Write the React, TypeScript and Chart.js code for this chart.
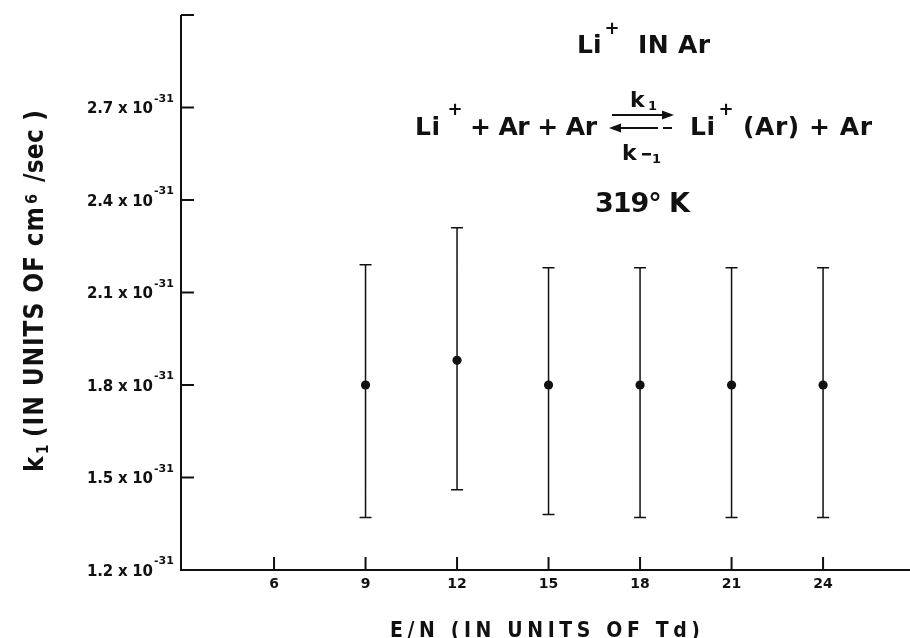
import React, { useEffect, useRef } from "react";
import { Chart, registerables } from "chart.js";

Chart.register(...registerables);

// ---- data ----
const enValues = [9, 12, 15, 18, 21, 24]; // E/N (Td)
const k1Values = [1.8, 1.88, 1.8, 1.8, 1.8, 1.8]; // x 1e-31 cm^6/sec
const k1High = [2.19, 2.31, 2.18, 2.18, 2.18, 2.18];
const k1Low = [1.37, 1.46, 1.38, 1.37, 1.37, 1.37];
const xTicks = [6, 9, 12, 15, 18, 21, 24];
const xTickLabels = ["6", "9", "12", "15", "18", "21", "24"];
const yTicks = [1.2, 1.5, 1.8, 2.1, 2.4, 2.7];
const yTickLabels = ["1.2", "1.5", "1.8", "2.1", "2.4", "2.7"];
const yExponent = "-31";
const xMin = 2.95;
const xMax = 26.85;
const yMin = 1.2;
const yMax = 3.0;

const FONT = '"DejaVu Sans", sans-serif';
const CFONT = '"DejaVu Sans Condensed", "DejaVu Sans", sans-serif';
const INK = "#111";

function charW(ctx: CanvasRenderingContext2D, s: string) {
  return Array.from(s).reduce((a, c) => a + ctx.measureText(c).width, 0);
}
function drawSpaced(ctx: CanvasRenderingContext2D, s: string, x: number, y: number, sp: number) {
  let cx = x;
  for (const ch of Array.from(s)) {
    ctx.fillText(ch, cx, y);
    cx += ctx.measureText(ch).width + sp;
  }
}
function drawFit(ctx: CanvasRenderingContext2D, s: string, x0: number, x1: number, y: number) {
  const chars = Array.from(s);
  const w = charW(ctx, s);
  const sp = chars.length > 1 ? (x1 - x0 - w) / (chars.length - 1) : 0;
  ctx.textAlign = "left";
  drawSpaced(ctx, s, x0, y, sp);
}

const paperPlugin = {
  id: "paper",
  beforeDatasetsDraw(chart: any) {
    const { ctx, chartArea: ca, scales } = chart;
    const x = scales.x;
    const y = scales.y;
    ctx.save();
    ctx.strokeStyle = INK;
    ctx.lineCap = "butt";
    ctx.lineWidth = 2;
    ctx.beginPath();
    ctx.moveTo(ca.left, y.getPixelForValue(yMax));
    ctx.lineTo(ca.left, ca.bottom);
    ctx.lineTo(ca.right, ca.bottom);
    ctx.stroke();
    ctx.beginPath();
    for (const v of [...yTicks, yMax]) {
      const py = y.getPixelForValue(v);
      ctx.moveTo(ca.left, py);
      ctx.lineTo(ca.left + 13, py);
    }
    for (const v of xTicks) {
      const px = x.getPixelForValue(v);
      ctx.moveTo(px, ca.bottom);
      ctx.lineTo(px, ca.bottom - 13);
    }
    ctx.stroke();
    ctx.lineWidth = 1.5;
    ctx.beginPath();
    enValues.forEach((xv, i) => {
      const px = x.getPixelForValue(xv);
      const top = y.getPixelForValue(k1High[i]);
      const bot = y.getPixelForValue(k1Low[i]);
      ctx.moveTo(px, top);
      ctx.lineTo(px, bot);
      ctx.moveTo(px - 6, top);
      ctx.lineTo(px + 6, top);
      ctx.moveTo(px - 6, bot);
      ctx.lineTo(px + 6, bot);
    });
    ctx.stroke();
    ctx.restore();
  },
  afterDraw(chart: any) {
    const { ctx, scales } = chart;
    const x = scales.x;
    const y = scales.y;
    ctx.save();
    ctx.fillStyle = INK;
    ctx.strokeStyle = INK;

    // y tick labels
    yTicks.forEach((v, i) => {
      const py = y.getPixelForValue(v);
      ctx.font = `bold 15px ${FONT}`;
      ctx.textBaseline = "alphabetic";
      drawFit(ctx, `${yTickLabels[i]} x 10`, 87, 153, py + 5.5);
      ctx.font = `bold 11px ${FONT}`;
      ctx.textAlign = "left";
      ctx.fillText(yExponent, 154, py - 6);
    });

    // x tick labels
    ctx.font = `bold 14px ${FONT}`;
    ctx.textAlign = "center";
    ctx.textBaseline = "alphabetic";
    xTicks.forEach((v, i) => {
      ctx.fillText(xTickLabels[i], x.getPixelForValue(v), 588);
    });

    // x title
    ctx.font = `bold 21px ${CFONT}`;
    drawFit(ctx, "E/N (IN UNITS OF Td)", 390, 700, 637);

    // y title (rotated)
    ctx.save();
    ctx.translate(33, 472);
    ctx.rotate(-Math.PI / 2);
    ctx.textBaseline = "alphabetic";
    ctx.textAlign = "left";
    ctx.font = `bold 26px ${CFONT}`;
    ctx.fillText("k", 0, 9.5);
    ctx.font = `bold 15px ${CFONT}`;
    ctx.fillText("1", 18, 15);
    ctx.font = `bold 26px ${CFONT}`;
    drawFit(ctx, "(IN UNITS OF cm", 35, 265, 9.5);
    ctx.font = `bold 16px ${CFONT}`;
    ctx.fillText("6", 268, 3.5);
    ctx.font = `bold 26px ${CFONT}`;
    drawFit(ctx, "/sec )", 290, 362, 9.5);
    ctx.restore();

    // annotation: Li+ IN Ar
    ctx.textBaseline = "alphabetic";
    ctx.textAlign = "left";
    ctx.font = `bold 25px ${FONT}`;
    drawSpaced(ctx, "Li", 577, 53, 0);
    ctx.font = `bold 18px ${FONT}`;
    ctx.textAlign = "center";
    ctx.textBaseline = "middle";
    ctx.fillText("+", 612, 29);
    ctx.textBaseline = "alphabetic";
    ctx.font = `bold 25px ${FONT}`;
    drawFit(ctx, "IN Ar", 638, 710, 53);

    // equation
    ctx.font = `bold 25px ${FONT}`;
    ctx.textAlign = "left";
    drawSpaced(ctx, "Li", 415, 135, 0.5);
    ctx.font = `bold 18px ${FONT}`;
    ctx.textAlign = "center";
    ctx.textBaseline = "middle";
    ctx.fillText("+", 455, 110);
    ctx.textBaseline = "alphabetic";
    ctx.font = `bold 25px ${FONT}`;
    drawFit(ctx, "+ Ar + Ar", 470, 597, 135);
    ctx.textAlign = "left";
    drawSpaced(ctx, "Li", 690, 135, 0.5);
    ctx.font = `bold 18px ${FONT}`;
    ctx.textAlign = "center";
    ctx.textBaseline = "middle";
    ctx.fillText("+", 726, 110);
    ctx.textBaseline = "alphabetic";
    ctx.font = `bold 25px ${FONT}`;
    drawFit(ctx, "(Ar) + Ar", 743, 872, 135);

    // rate constants over / under arrows
    ctx.textAlign = "left";
    ctx.font = `bold 22px ${FONT}`;
    ctx.fillText("k", 630, 107);
    ctx.font = `bold 13px ${FONT}`;
    ctx.fillText("1", 648, 110);
    ctx.font = `bold 22px ${FONT}`;
    ctx.fillText("k", 622, 160);
    ctx.fillRect(642, 153, 9, 2.5);
    ctx.font = `bold 13px ${FONT}`;
    ctx.fillText("1", 652, 163);

    // arrows
    ctx.lineWidth = 2;
    ctx.beginPath();
    ctx.moveTo(612, 115);
    ctx.lineTo(665, 115);
    ctx.moveTo(620, 128);
    ctx.lineTo(658, 128);
    ctx.moveTo(663, 128);
    ctx.lineTo(672, 128);
    ctx.stroke();
    ctx.beginPath();
    ctx.moveTo(674, 115);
    ctx.lineTo(662, 110.5);
    ctx.lineTo(662, 119.5);
    ctx.closePath();
    ctx.fill();
    ctx.beginPath();
    ctx.moveTo(609, 128);
    ctx.lineTo(621, 123.5);
    ctx.lineTo(621, 132.5);
    ctx.closePath();
    ctx.fill();

    // temperature
    ctx.font = `bold 27px ${FONT}`;
    drawFit(ctx, "319° K", 595, 690, 212);

    ctx.restore();
  },
};

export default function App() {
  const canvasRef = useRef<HTMLCanvasElement | null>(null);

  useEffect(() => {
    const canvas = canvasRef.current;
    if (!canvas) return;
    const chart = new Chart(canvas, {
      type: "scatter",
      data: {
        datasets: [
          {
            label: "k1",
            data: enValues.map((v, i) => ({ x: v, y: k1Values[i] })),
            backgroundColor: INK,
            borderColor: INK,
            borderWidth: 0,
            pointRadius: 4.6,
            pointHoverRadius: 4.6,
            showLine: false,
          },
        ],
      },
      options: {
        animation: false,
        responsive: false,
        maintainAspectRatio: false,
        devicePixelRatio: 1,
        events: [],
        layout: { autoPadding: false, padding: { left: 181, top: 15, right: 0, bottom: 68 } },
        plugins: {
          legend: { display: false },
          tooltip: { enabled: false },
          title: { display: false },
        },
        scales: {
          x: { type: "linear", min: xMin, max: xMax, display: false },
          y: { type: "linear", min: yMin, max: yMax, display: false },
        },
      },
      plugins: [paperPlugin],
    });
    return () => chart.destroy();
  }, []);

  return (
    <div style={{ position: "fixed", left: 0, top: 0, width: 910, height: 638, background: "#fff" }}>
      <canvas ref={canvasRef} width={910} height={638} style={{ display: "block" }} />
    </div>
  );
}
